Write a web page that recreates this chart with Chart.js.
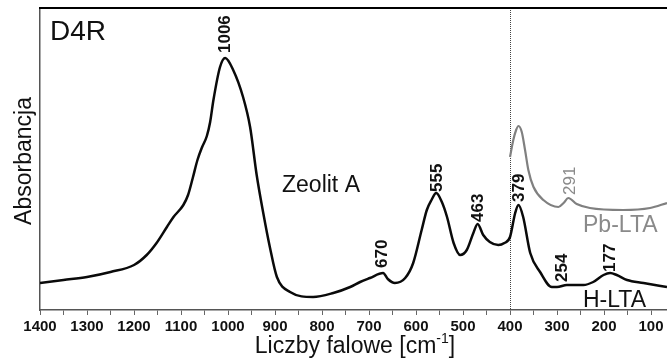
<!DOCTYPE html>
<html lang="pl">
<head>
<meta charset="utf-8">
<title>D4R - widmo IR</title>
<script src="https://cdn.jsdelivr.net/npm/chart.js@4.4.1/dist/chart.umd.min.js"></script>
<style>
  body { margin: 0; background: #fff; }
  canvas { display: block; }
</style>
</head>
<body>
<canvas id="wykres" width="667" height="358"></canvas>
<script>
// H-LTA (czarna linia): liczba falowa [cm-1] i absorbancja (j.u.)
const hltaFale = [1400, 1350, 1300, 1250, 1200, 1173, 1152, 1130, 1116, 1095, 1085, 1075, 1065, 1055, 1045, 1038, 1031, 1017, 1006,
  989, 968, 953, 939, 925, 911, 896, 868, 819, 776, 740, 719, 698, 670, 660, 645, 623, 606, 588, 577, 567, 557, 545, 534,
  520, 506, 492, 478, 469, 457, 443, 425, 412, 400, 389, 382, 372, 357, 336, 311, 300, 279, 244, 223, 201, 187, 173, 151, 116, 66];
const hltaAbs = [0.27, 0.30, 0.33, 0.38, 0.45, 0.55, 0.67, 0.83, 0.93, 1.05, 1.15, 1.32, 1.50, 1.63, 1.74, 1.88, 2.10, 2.43, 2.52,
  2.40, 2.13, 1.83, 1.35, 0.97, 0.63, 0.33, 0.18, 0.13, 0.17, 0.23, 0.28, 0.32, 0.37, 0.31, 0.27, 0.32, 0.47, 0.80, 1.00, 1.10, 1.17, 1.08, 0.93,
  0.67, 0.55, 0.60, 0.77, 0.86, 0.75, 0.68, 0.65, 0.67, 0.73, 0.97, 1.05, 0.93, 0.57, 0.38, 0.23, 0.23, 0.25, 0.25, 0.28, 0.35, 0.37, 0.35, 0.30, 0.27, 0.23];

// Pb-LTA (szara linia), tylko od 400 cm-1
const pbFale = [400, 393, 387, 382, 375, 368, 361, 350, 329, 297, 286, 276, 258, 230, 159, 102, 66];
const pbAbs = [1.53, 1.70, 1.80, 1.84, 1.78, 1.60, 1.40, 1.23, 1.10, 1.03, 1.07, 1.12, 1.06, 1.02, 1.00, 1.02, 1.07];

// opisy pasm: tekst, liczba falowa i poziom absorbancji pod napisem
const pikiTekst = ['1006', '670', '555', '463', '379', '254', '177'];
const pikiFala = [1006, 672, 554, 467, 381, 288, 187];
const pikiPoziom = [2.57, 0.42, 1.18, 0.88, 1.08, 0.28, 0.38];
const pbPikiTekst = ['291'];
const pbPikiFala = [272];
const pbPikiPoziom = [1.15];

// podpisy osi X
const etykietyX = [1400, 1300, 1200, 1100, 1000, 900, 800, 700, 600, 500, 400, 300, 200, 100];

const FONT = '"Liberation Sans", Arial, sans-serif';

function punkty(fale, abs) {
  return fale.map((f, i) => ({ x: f, y: abs[i] }));
}

function pionowyNapis(ctx, tekst, x, y) {
  ctx.save();
  ctx.translate(x, y);
  ctx.rotate(-Math.PI / 2);
  ctx.textAlign = 'left';
  ctx.textBaseline = 'middle';
  ctx.fillText(tekst, 0, 0);
  ctx.restore();
}

const linia400 = {
  id: 'linia400',
  beforeDatasetsDraw(chart) {
    const ctx = chart.ctx;
    const obszar = chart.chartArea;
    const px = Math.round(chart.scales.x.getPixelForValue(400)) + 0.5;
    ctx.save();
    ctx.strokeStyle = '#444';
    ctx.lineWidth = 1;
    ctx.setLineDash([1, 1]);
    ctx.beginPath();
    ctx.moveTo(px, obszar.top);
    ctx.lineTo(px, obszar.bottom);
    ctx.stroke();
    ctx.restore();
  }
};

const napisy = {
  id: 'napisy',
  afterDraw(chart) {
    const ctx = chart.ctx;
    const sx = chart.scales.x;
    const sy = chart.scales.y;
    const obszar = chart.chartArea;
    ctx.save();

    // górna krawędź ramki
    ctx.strokeStyle = '#000';
    ctx.lineWidth = 2;
    ctx.beginPath();
    ctx.moveTo(obszar.left - 1, obszar.top);
    ctx.lineTo(obszar.right, obszar.top);
    ctx.stroke();

    // opisy pasm
    ctx.fillStyle = '#111';
    ctx.font = 'bold 17px ' + FONT;
    pikiTekst.forEach((t, i) => {
      pionowyNapis(ctx, t, sx.getPixelForValue(pikiFala[i]), sy.getPixelForValue(pikiPoziom[i]));
    });
    ctx.fillStyle = '#8a8a8a';
    ctx.font = '17px ' + FONT;
    pbPikiTekst.forEach((t, i) => {
      pionowyNapis(ctx, t, sx.getPixelForValue(pbPikiFala[i]), sy.getPixelForValue(pbPikiPoziom[i]));
    });

    // napisy w polu wykresu
    ctx.textAlign = 'left';
    ctx.textBaseline = 'alphabetic';
    ctx.fillStyle = '#111';
    ctx.font = '28px ' + FONT;
    ctx.fillText('D4R', 50, 40);
    ctx.font = '23px ' + FONT;
    ctx.fillText('Zeolit A', 282, 192);
    ctx.fillText('H-LTA', 583, 307);
    ctx.fillStyle = '#8a8a8a';
    ctx.fillText('Pb-LTA', 583, 232);

    // tytuł osi Y
    ctx.fillStyle = '#111';
    ctx.font = '23px ' + FONT;
    ctx.save();
    ctx.translate(31, 161);
    ctx.rotate(-Math.PI / 2);
    ctx.textAlign = 'center';
    ctx.fillText('Absorbancja', 0, 0);
    ctx.restore();

    // tytuł osi X z indeksem górnym
    const czesc1 = 'Liczby falowe [cm';
    const indeks = '-1';
    const czesc2 = ']';
    ctx.font = '23px ' + FONT;
    const w1 = ctx.measureText(czesc1).width;
    const w3 = ctx.measureText(czesc2).width;
    ctx.font = '14px ' + FONT;
    const w2 = ctx.measureText(indeks).width;
    let start = 355 - (w1 + w2 + w3) / 2;
    const baza = 353;
    ctx.font = '23px ' + FONT;
    ctx.fillText(czesc1, start, baza);
    ctx.font = '14px ' + FONT;
    ctx.fillText(indeks, start + w1, baza - 10);
    ctx.font = '23px ' + FONT;
    ctx.fillText(czesc2, start + w1 + w2, baza);

    ctx.restore();
  }
};

const ctx = document.getElementById('wykres').getContext('2d');
new Chart(ctx, {
  type: 'line',
  data: {
    datasets: [
      {
        label: 'H-LTA',
        data: punkty(hltaFale, hltaAbs),
        borderColor: '#0a0a0a',
        borderWidth: 2.5,
        pointRadius: 0,
        cubicInterpolationMode: 'monotone',
        fill: false
      },
      {
        label: 'Pb-LTA',
        data: punkty(pbFale, pbAbs),
        borderColor: '#808080',
        borderWidth: 2.2,
        pointRadius: 0,
        cubicInterpolationMode: 'monotone',
        fill: false
      }
    ]
  },
  options: {
    responsive: false,
    animation: false,
    layout: { padding: { top: 8, left: 0, right: 0, bottom: 0 } },
    plugins: {
      legend: { display: false },
      tooltip: { enabled: false }
    },
    scales: {
      x: {
        type: 'linear',
        reverse: true,
        min: 66,
        max: 1400,
        afterFit: function(scale) { scale.height = 48; },
        border: { display: true, color: '#555', width: 1.5 },
        grid: { drawOnChartArea: false, tickLength: 5, color: '#666', lineWidth: 1 },
        ticks: {
          stepSize: 50,
          includeBounds: false,
          autoSkip: false,
          maxRotation: 0,
          padding: 3,
          color: '#111',
          font: { family: FONT, size: 15, weight: 'bold' },
          callback: function(value) {
            return etykietyX.includes(value) ? String(value) : '';
          }
        }
      },
      y: {
        min: 0,
        max: 3.02,
        afterFit: function(scale) { scale.width = 40; },
        border: { display: true, color: '#555', width: 1.5 },
        grid: { display: false },
        ticks: { display: false }
      }
    }
  },
  plugins: [linia400, napisy]
});
</script>
</body>
</html>
